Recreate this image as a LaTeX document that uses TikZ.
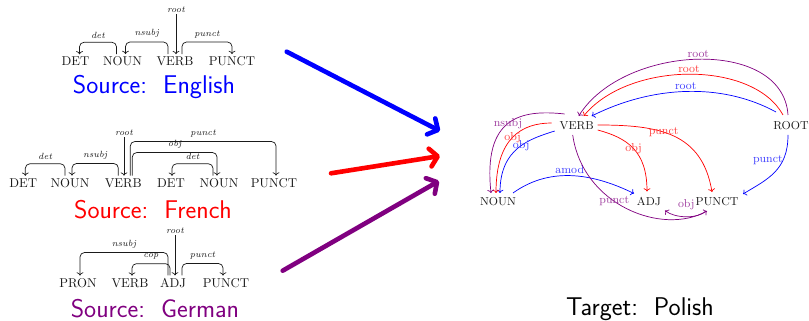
\documentclass[tikz,border=0pt]{standalone}
\usepackage{tikz}
\usetikzlibrary{arrows.meta,calc}
\definecolor{srcblue}{HTML}{0000FF}
\definecolor{srcred}{HTML}{FF0000}
\definecolor{srcpurple}{HTML}{800080}
\definecolor{ink}{HTML}{1A1A1A}
\tikzset{
  word/.style={inner sep=2pt,font=\normalsize,text=ink},
  tword/.style={inner sep=2.5pt,font=\small,text=ink},
  deparc/.style={-{To[length=2.5pt]},line width=0.55pt,rounded corners=3.5pt,draw=ink},
  deplabel/.style={font=\scriptsize\itshape,inner sep=1pt,text=ink},
  tarc/.style={-{To[length=2.5pt]},line width=0.55pt},
  tlabel/.style={font=\small,inner sep=1pt},
  srctitle/.style={font=\fontsize{20}{22}\selectfont\sffamily},
  bigarr/.style={-{Straight Barb[length=6pt,width=14pt,line cap=round,line join=round]},line width=3.6pt,line cap=round}
}

\begin{document}
\begin{tikzpicture}[x=0.78pt,y=0.78pt]
  \useasboundingbox (0,0) rectangle (809,321);

  % English
  \node[word] (en1) at (75.5,259.5) {DET};
  \node[word] (en2) at (122.5,259.5) {NOUN};
  \node[word] (en3) at (175,259.5) {VERB};
  \node[word] (en4) at (232,259.5) {PUNCT};
  \node[deplabel] (en-root) at (176,311) {root};
  \draw[deparc] (en-root.south) -- (en-root.south |- en3.north);
  \draw[deparc] ($(en2.north)+(-6,0)$) |- node[deplabel,pos=0.75,above=2pt] {det} ($(en1.north)+(4,12)$) -- ($(en1.north)+(4,0)$);
  \draw[deparc] ($(en3.north)+(-7,0)$) |- node[deplabel,pos=0.75,above=2pt] {nsubj} ($(en2.north)+(3,12)$) -- ($(en2.north)+(3,0)$);
  \draw[deparc] ($(en3.north)+(7,0)$) |- node[deplabel,pos=0.75,above=2pt] {punct} ($(en4.north)+(0,12)$) -- (en4.north);
  \node[srctitle,text=srcblue] (src-en) at (154,234) {Source:\ \ English};

  % French
  \node[word] (fr1) at (23.3,138) {DET};
  \node[word] (fr2) at (70,138) {NOUN};
  \node[word] (fr3) at (123.3,138) {VERB};
  \node[word] (fr4) at (171,138) {DET};
  \node[word] (fr5) at (219,138) {NOUN};
  \node[word] (fr6) at (274,138) {PUNCT};
  \node[deplabel] (fr-root) at (124,188) {root};
  \draw[deparc] (fr-root.south) -- (fr-root.south |- fr3.north);
  \draw[deparc] ($(fr2.north)+(-5,0)$) |- node[deplabel,pos=0.75,above=2pt] {det} ($(fr1.north)+(2,12)$) -- ($(fr1.north)+(2,0)$);
  \draw[deparc] ($(fr3.north)+(-5,0)$) |- node[deplabel,pos=0.75,above=2pt] {nsubj} ($(fr2.north)+(2,12)$) -- ($(fr2.north)+(2,0)$);
  \draw[deparc] ($(fr3.north)+(7,0)$) |- node[deplabel,pos=0.75,above=2pt] {punct} ($(fr6.north)+(2,34)$) -- ($(fr6.north)+(2,0)$);
  \draw[deparc] ($(fr3.north)+(9,0)$) |- node[deplabel,pos=0.75,above=2pt] {obj} ($(fr5.north)+(-2,23)$) -- ($(fr5.north)+(-2,0)$);
  \draw[deparc] ($(fr5.north)+(-6,0)$) |- node[deplabel,pos=0.75,above=2pt] {det} ($(fr4.north)+(1,12)$) -- ($(fr4.north)+(1,0)$);
  \node[srctitle,text=srcred] (src-fr) at (153,111) {Source:\ \ French};

  % German
  \node[word] (de1) at (78,38) {PRON};
  \node[word] (de2) at (130,38) {VERB};
  \node[word] (de3) at (173,38) {ADJ};
  \node[word] (de4) at (226,38) {PUNCT};
  \node[deplabel] (de-root) at (175,90) {root};
  \draw[deparc] (de-root.south) -- (de-root.south |- de3.north);
  \draw[deparc] ($(de3.north)+(-5,0)$) |- node[deplabel,pos=0.75,above=2pt] {nsubj} ($(de1.north)+(2,23)$) -- ($(de1.north)+(2,0)$);
  \draw[deparc] ($(de3.north)+(-3,0)$) |- node[deplabel,pos=0.75,above=2pt] {cop} ($(de2.north)+(2,12)$) -- ($(de2.north)+(2,0)$);
  \draw[deparc] ($(de3.north)+(9,0)$) |- node[deplabel,pos=0.75,above=2pt] {punct} ($(de4.north)+(-3,12)$) -- ($(de4.north)+(-3,0)$);
  \node[srctitle,text=srcpurple] (src-de) at (155,12) {Source:\ \ German};

  % transfer arrows
  \coordinate (from-en) at (286.7,269.3);
  \coordinate (to-en) at (440,190);
  \coordinate (from-fr) at (331,147.7);
  \coordinate (to-fr) at (440,165);
  \coordinate (from-de) at (282.7,50.3);
  \coordinate (to-de) at (439,140);
  \draw[bigarr,srcblue] (from-en) -- (to-en);
  \draw[bigarr,srcred] (from-fr) -- (to-fr);
  \draw[bigarr,srcpurple] (from-de) -- (to-de);

  % Polish target
  \node[tword] (verb) at (576.7,195) {VERB};
  \node[tword] (noun) at (498,119) {NOUN};
  \node[tword] (adj) at (649,119.5) {ADJ};
  \node[tword] (punct) at (717,119) {PUNCT};
  \node[tword] (root) at (791,195) {ROOT};

  \draw[tarc,srcblue] ($(root)+(-15,14)$) .. controls +(-55,30) and +(60,30) .. node[tlabel,above,text=srcblue!75] {root} ($(verb)+(15,10)$);
  \draw[tarc,srcred] ($(root)+(-8,11)$) .. controls +(-30,55) and +(45,55) .. node[tlabel,above,text=srcred!75] {root} ($(verb)+(7,10)$);
  \draw[tarc,srcpurple] ($(root)+(-3,11)$) .. controls +(-5,78) and +(45,72) .. node[tlabel,above,text=srcpurple!75] {root} ($(verb)+(2,10)$);

  \draw[tarc,srcblue] ($(root)+(-3,-9)$) .. controls +(0,-35) and +(25,15) .. node[tlabel,pos=0.3,left,inner sep=0pt,text=srcblue!75] {punct} ($(punct)+(26,8)$);
  \draw[tarc,srcred] ($(verb)+(21,1)$) .. controls +(60,0) and +(-10,60) .. node[tlabel,pos=0.42,text=srcred!75] {punct} ($(punct)+(-5,10)$);
  \draw[tarc,srcred] ($(verb)+(21,-4)$) .. controls +(30,-8) and +(0,40) .. node[tlabel,text=srcred!75] {obj} ($(adj)+(-2,10)$);

  \draw[tarc,srcblue] ($(verb)+(-22,-5)$) .. controls +(-25,-8) and +(0,45) .. node[tlabel,pos=0.45,text=srcblue!75] {obj} ($(noun)+(2,9)$);
  \draw[tarc,srcred] ($(verb)+(-25,3)$) .. controls +(-30,0) and +(0,55) .. node[tlabel,text=srcred!75] {obj} ($(noun)+(-2,9)$);
  \draw[tarc,srcpurple] ($(verb)+(-12,12)$) .. controls +(-45,5) and +(-8,75) .. node[tlabel,text=srcpurple!75] {nsubj} ($(noun)+(-7,9)$);
  \draw[tarc,srcblue] ($(noun)+(15,9)$) .. controls +(35,25) and +(-45,22) .. node[tlabel,above,text=srcblue!75] {amod} ($(adj)+(-15,8)$);

  \draw[tarc,srcpurple] ($(verb)+(-4,-9)$) .. controls +(10,-70) and +(-45,-25) .. node[tlabel,pos=0.42,text=srcpurple!75] {punct} ($(punct)+(-10,-9)$);
  \draw[tarc,srcpurple] ($(punct)+(-11,-9)$) .. controls +(-8,-8) and +(10,-8) .. node[tlabel,above=4pt,text=srcpurple!75] {obj} ($(adj)+(16,-9)$);

  \node[srctitle,text=black] (tgt) at (640,12) {Target:\ \ Polish};
\end{tikzpicture}
\end{document}
